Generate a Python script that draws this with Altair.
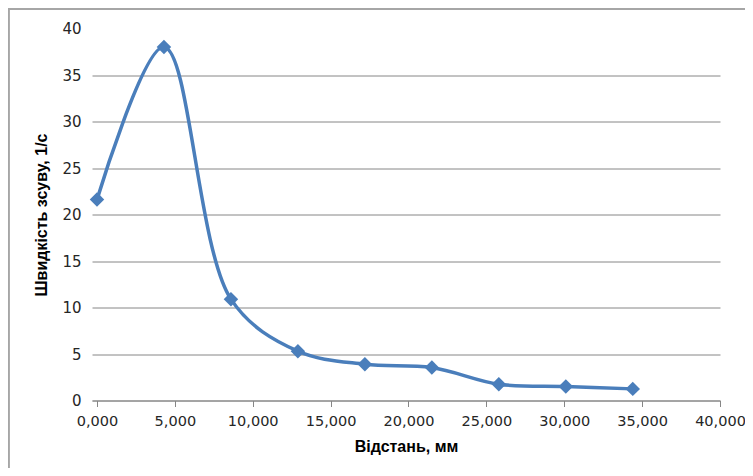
import altair as alt
import pandas as pd

distance = [0.0, 4.3, 8.6, 12.9, 17.2, 21.5, 25.8, 30.1, 34.4]
shear_rate = [21.6, 38.0, 10.9, 5.3, 3.9, 3.55, 1.75, 1.5, 1.25]
x_ticks = [0, 5, 10, 15, 20, 25, 30, 35, 40]
y_ticks = [0, 5, 10, 15, 20, 25, 30, 35, 40]

df = pd.DataFrame({"x": distance, "y": shear_rate})

BLUE = "#4A7EBB"
GRID = "#868686"
FONT = "DejaVu Sans"

x_enc = alt.X(
    "x:Q",
    scale=alt.Scale(domain=[-0.32, 40], nice=False, zero=False),
    axis=alt.Axis(
        values=x_ticks,
        labelExpr="replace(format(datum.value, '.3f'), '.', ',')",
        labelFlush=False,
        labelOverlap=False,
        title="Відстань, мм",
        grid=False,
        domainColor=GRID,
        tickColor=GRID,
        tickSize=6,
        labelPadding=8,
        titlePadding=10,
    ),
)
y_enc = alt.Y(
    "y:Q",
    scale=alt.Scale(domain=[0, 40], nice=False),
    axis=alt.Axis(
        values=y_ticks,
        format="d",
        title="Швидкість зсуву, 1/с",
        grid=True,
        gridColor=GRID,
        gridWidth=1,
        gridOpacity={"condition": {"test": "datum.value === 40", "value": 0}, "value": 1},
        domain=False,
        ticks=False,
        labelFlush=False,
        labelPadding=11,
        titlePadding=12,
    ),
)

base = alt.Chart(df)
line = base.mark_line(interpolate="catmull-rom", color=BLUE, strokeWidth=3.5).encode(x=x_enc, y=y_enc)
pts = base.mark_point(shape="diamond", filled=True, color=BLUE, size=210, opacity=1).encode(x="x:Q", y="y:Q")

border_left = alt.Chart(df).mark_rule(color="#A6A6A6", strokeWidth=1.5, clip=False).encode(
    x=alt.value(-83.5), y=alt.value(-19.5), y2=alt.value(460)
)
border_top = alt.Chart(df).mark_rule(color="#A6A6A6", strokeWidth=1.5, clip=False).encode(
    x=alt.value(-83.5), x2=alt.value(700), y=alt.value(-19.5)
)

chart = (
    alt.layer(border_left, border_top, line, pts)
    .properties(
        width=628,
        height=372,
        autosize=alt.AutoSizeParams(type="none"),
        padding={"left": 84, "top": 20.5, "right": 25, "bottom": 67},
    )
    .configure_view(stroke=None)
    .configure_axis(
        labelFont=FONT,
        labelFontSize=15,
        labelColor="#262626",
        titleFont="Liberation Sans",
        titleFontSize=16,
        titleFontWeight="bold",
        titleColor="#000000",
    )
    .configure_axisX(labelFontSize=14.5)
)

chart.save("out.html", embed_options={"renderer": "svg", "actions": False})
